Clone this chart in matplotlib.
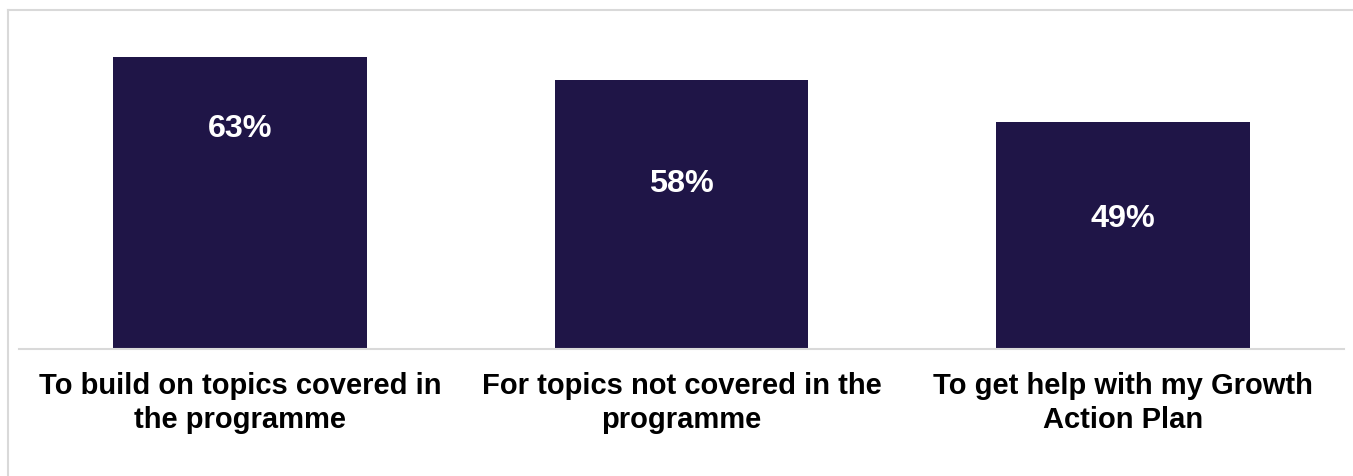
import matplotlib
matplotlib.use('Agg')
from matplotlib import pyplot as plt
from matplotlib.lines import Line2D

plt.rcParams['font.family'] = ['Liberation Sans', 'DejaVu Sans']

categories = ['To build on topics covered in\nthe programme',
              'For topics not covered in the\nprogramme',
              'To get help with my Growth\nAction Plan']
shares = [63, 58, 49]
label_heights = [47.7, 35.8, 28.3]   # where the % text sits inside each bar

bar_colour = '#1F1547'
rule_colour = '#D9D9D9'

W, H = 1353, 477
fig = plt.figure(figsize=(W / 100, H / 100), dpi=100)

# plot area: baseline at y=350 px, top at y=11 px, x from 19 to 1344 px
ax = fig.add_axes([19 / W, (H - 350) / H, (1344 - 19) / W, (350 - 11) / H])

x = range(len(categories))
bars = ax.bar(x, shares, width=0.575, color=bar_colour)
ax.set_xlim(-0.5, len(categories) - 0.5)
ax.set_ylim(0, 73.2)

for xi, val, yl in zip(x, shares, label_heights):
    ax.text(xi, yl, f'{val}%', ha='center', va='center', color='white',
            fontsize=23.3, fontweight='bold')

for s in ['top', 'right', 'left']:
    ax.spines[s].set_visible(False)
ax.spines['bottom'].set_color(rule_colour)
ax.spines['bottom'].set_linewidth(1.5)
ax.set_yticks([])
ax.set_xticks(list(x))
ax.set_xticklabels(categories, fontsize=21, fontweight='bold',
                   linespacing=1.3)
ax.tick_params(axis='x', length=0, pad=15.5)

# outer frame: top and left edge
fig.add_artist(Line2D([8 / W, 1], [1 - 11 / H, 1 - 11 / H],
                      color=rule_colour, lw=1.5, transform=fig.transFigure))
fig.add_artist(Line2D([8 / W, 8 / W], [0, 1 - 11 / H],
                      color=rule_colour, lw=1.5, transform=fig.transFigure))

fig.savefig('out.png', dpi=100)
